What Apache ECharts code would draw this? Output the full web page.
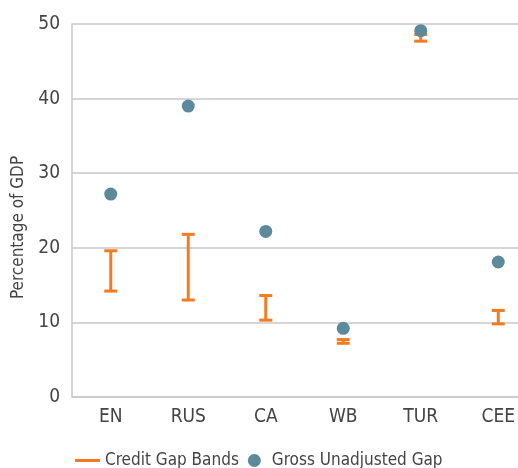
<!DOCTYPE html>
<html><head><meta charset="utf-8">
<script src="https://cdn.jsdelivr.net/npm/echarts@6/dist/echarts.min.js"></script>
<style>html,body{margin:0;padding:0;background:#fff}#c{width:518px;height:468px}</style>
</head><body><div id="c"></div>
<script>
var categories = ['EN','RUS','CA','WB','TUR','CEE'];
var bandLow  = [14.2, 13.0, 10.3, 7.2, 47.7, 9.8];
var bandHigh = [19.6, 21.8, 13.6, 7.7, 48.6, 11.6];
var grossGap = [27.2, 39.0, 22.2, 9.2, 49.1, 18.1];

var FONT = "'DejaVu Sans Condensed',sans-serif";
var ORANGE = '#F47B20';
var TEAL = '#5D8A9B';
var chart = echarts.init(document.getElementById('c'));
var bandData = categories.map(function(c,i){return [i, bandLow[i], bandHigh[i]];});
chart.setOption({
  animation:false,
  grid:{left:72, top:24, width:465, height:373, outerBoundsMode:'none', containLabel:false},
  legend:{
    top:447, left:70, itemGap:9, itemWidth:25, itemHeight:13,
    textStyle:{fontFamily:FONT, fontSize:17, color:'#444'},
    data:[
      {name:'Credit Gap Bands', icon:'path://M0,0H25V3H0Z', itemStyle:{color:ORANGE}},
      {name:'Gross Unadjusted Gap', icon:'circle', itemStyle:{color:TEAL}}
    ]
  },
  xAxis:{
    type:'category', data:categories,
    axisLine:{lineStyle:{color:'#c8c8c8', width:1.5}},
    axisTick:{show:false},
    axisLabel:{fontFamily:FONT, fontSize:19, color:'#444', margin:11}
  },
  yAxis:{
    type:'value', min:0, max:50, interval:10,
    name:'Percentage of GDP', nameLocation:'middle', nameGap:42,
    nameTextStyle:{fontFamily:FONT, fontSize:17, color:'#444', padding:[0,34,0,0]},
    axisLine:{show:true, lineStyle:{color:'#c8c8c8', width:1.5}},
    axisTick:{show:false},
    splitLine:{lineStyle:{color:'#c8c8c8', width:1.5}},
    axisLabel:{fontFamily:FONT, fontSize:19, color:'#444', margin:12}
  },
  series:[
    {
      name:'Credit Gap Bands', type:'custom', color:ORANGE,
      itemStyle:{color:ORANGE},
      data:bandData,
      encode:{x:0, y:[1,2]},
      renderItem:function(params, api){
        var x = api.value(0);
        var lo = api.coord([x, api.value(1)]);
        var hi = api.coord([x, api.value(2)]);
        var hw = 6.5;
        var st = {stroke:ORANGE, lineWidth:3};
        return {type:'group', children:[
          {type:'line', shape:{x1:lo[0], y1:lo[1], x2:hi[0], y2:hi[1]}, style:st},
          {type:'line', shape:{x1:lo[0]-hw, y1:lo[1], x2:lo[0]+hw, y2:lo[1]}, style:st},
          {type:'line', shape:{x1:hi[0]-hw, y1:hi[1], x2:hi[0]+hw, y2:hi[1]}, style:st}
        ]};
      },
      z:2
    },
    {
      name:'Gross Unadjusted Gap', type:'scatter', data:grossGap,
      symbol:'circle', symbolSize:13, itemStyle:{color:TEAL, opacity:1}, z:3
    }
  ]
});
</script></body></html>
